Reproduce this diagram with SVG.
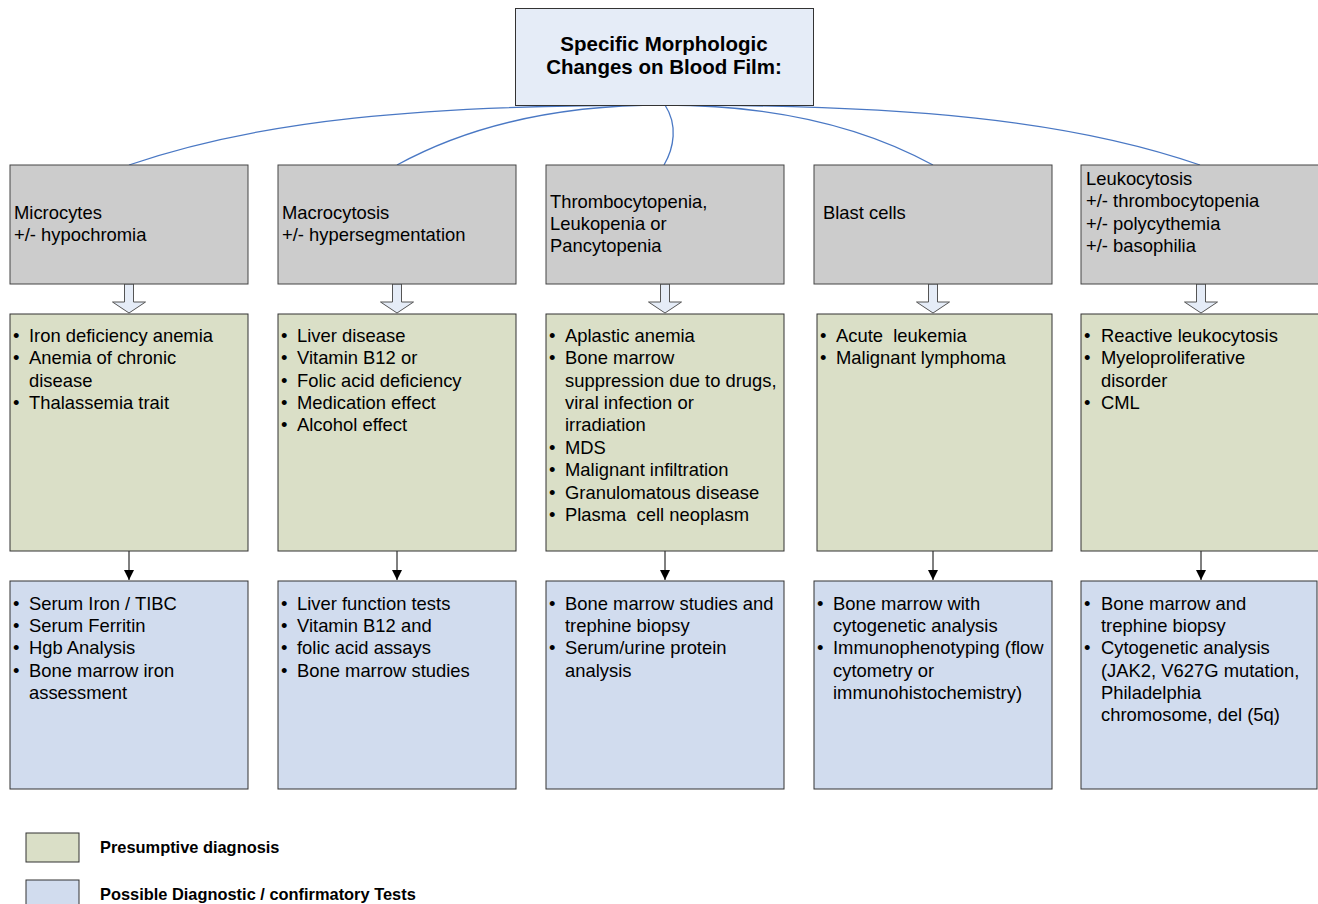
<svg xmlns="http://www.w3.org/2000/svg" width="1318" height="904" viewBox="0 0 1318 904">
<style>
text{font-family:"Liberation Sans",Arial,sans-serif;font-size:18.4px;fill:#000}
.t{font-size:20.5px;font-weight:bold;text-anchor:middle}
.lg{font-size:16.4px;font-weight:bold}
.top{fill:#e5ecf7;stroke:#333;stroke-width:1}
.g{fill:#cccccc;stroke:#444;stroke-width:1}
.p{fill:#dadfc7;stroke:#333;stroke-width:1}
.b{fill:#d1dcee;stroke:#333;stroke-width:1}
.cv{fill:none;stroke:#4a78c4;stroke-width:1.3}
.ln{fill:none;stroke:#000;stroke-width:1}
.ba{fill:#e5ecf7;stroke:#555;stroke-width:1}
</style>
<defs>
<marker id="ah" markerWidth="10" markerHeight="10" refX="10" refY="5" orient="auto" markerUnits="userSpaceOnUse">
<path d="M0,0 L10,5 L0,10 Z" fill="#000"/>
</marker>
</defs>

<g id="connectors">
<path class="cv" d="M664,105 C420,105 260,120 129,165"/>
<path class="cv" d="M664,105 C560,105 470,125 397,165"/>
<path class="cv" d="M665,105 C678,125 674,148 664,165"/>
<path class="cv" d="M664,105 C770,105 860,125 933,165"/>
<path class="cv" d="M664,105 C910,105 1070,120 1200,165"/>
<path class="ba" d="M124.5,284 h9 v18 h12 l-16.5,11 l-16.5,-11 h12 z"/>
<path class="ba" d="M392.5,284 h9 v18 h12 l-16.5,11 l-16.5,-11 h12 z"/>
<path class="ba" d="M660.5,284 h9 v18 h12 l-16.5,11 l-16.5,-11 h12 z"/>
<path class="ba" d="M928.5,284 h9 v18 h12 l-16.5,11 l-16.5,-11 h12 z"/>
<path class="ba" d="M1196.5,284 h9 v18 h12 l-16.5,11 l-16.5,-11 h12 z"/>
<line class="ln" x1="129" y1="551" x2="129" y2="580" marker-end="url(#ah)"/>
<line class="ln" x1="397" y1="551" x2="397" y2="580" marker-end="url(#ah)"/>
<line class="ln" x1="665" y1="551" x2="665" y2="580" marker-end="url(#ah)"/>
<line class="ln" x1="933" y1="551" x2="933" y2="580" marker-end="url(#ah)"/>
<line class="ln" x1="1201" y1="551" x2="1201" y2="580" marker-end="url(#ah)"/>
</g>

<g id="title">
<rect class="top" x="515.5" y="8.5" width="298" height="97"/>
<text class="t" x="664" y="51">Specific Morphologic</text>
<text class="t" x="664" y="74">Changes on Blood Film:</text>
</g>

<g id="n1">
<rect class="g" x="10" y="165" width="238" height="119"/>
<text x="14" y="219">Microcytes</text>
<text x="14" y="241">+/- hypochromia</text>
</g>
<g id="n2">
<rect class="g" x="278" y="165" width="238" height="119"/>
<text x="282" y="219">Macrocytosis</text>
<text x="282" y="241">+/- hypersegmentation</text>
</g>
<g id="n3">
<rect class="g" x="546" y="165" width="238" height="119"/>
<text x="550" y="208">Thrombocytopenia,</text>
<text x="550" y="230">Leukopenia or</text>
<text x="550" y="252">Pancytopenia</text>
</g>
<g id="n4">
<rect class="g" x="814" y="165" width="238" height="119"/>
<text x="823" y="219">Blast cells</text>
</g>
<g id="n5">
<rect class="g" x="1081" y="165" width="240" height="119"/>
<text x="1086" y="185">Leukocytosis</text>
<text x="1086" y="207">+/- thrombocytopenia</text>
<text x="1086" y="230">+/- polycythemia</text>
<text x="1086" y="252">+/- basophilia</text>
</g>

<g id="p1">
<rect class="p" x="10" y="314" width="238" height="237"/>
<text x="13" y="342">•</text><text x="29" y="342">Iron deficiency anemia</text>
<text x="13" y="364">•</text><text x="29" y="364">Anemia of chronic</text>
<text x="29" y="387">disease</text>
<text x="13" y="409">•</text><text x="29" y="409">Thalassemia trait</text>
</g>
<g id="p2">
<rect class="p" x="278" y="314" width="238" height="237"/>
<text x="281" y="342">•</text><text x="297" y="342">Liver disease</text>
<text x="281" y="364">•</text><text x="297" y="364">Vitamin B12 or</text>
<text x="281" y="387">•</text><text x="297" y="387">Folic acid deficiency</text>
<text x="281" y="409">•</text><text x="297" y="409">Medication effect</text>
<text x="281" y="431">•</text><text x="297" y="431">Alcohol effect</text>
</g>
<g id="p3">
<rect class="p" x="546" y="314" width="238" height="237"/>
<text x="549" y="342">•</text><text x="565" y="342">Aplastic anemia</text>
<text x="549" y="364">•</text><text x="565" y="364">Bone marrow</text>
<text x="565" y="387">suppression due to drugs,</text>
<text x="565" y="409">viral infection or</text>
<text x="565" y="431">irradiation</text>
<text x="549" y="454">•</text><text x="565" y="454">MDS</text>
<text x="549" y="476">•</text><text x="565" y="476">Malignant infiltration</text>
<text x="549" y="499">•</text><text x="565" y="499">Granulomatous disease</text>
<text x="549" y="521">•</text><text x="565" y="521" xml:space="preserve">Plasma  cell neoplasm</text>
</g>
<g id="p4">
<rect class="p" x="817" y="314" width="235" height="237"/>
<text x="820" y="342">•</text><text x="836" y="342" xml:space="preserve">Acute  leukemia</text>
<text x="820" y="364">•</text><text x="836" y="364">Malignant lymphoma</text>
</g>
<g id="p5">
<rect class="p" x="1081" y="314" width="240" height="237"/>
<text x="1084" y="342">•</text><text x="1101" y="342">Reactive leukocytosis</text>
<text x="1084" y="364">•</text><text x="1101" y="364">Myeloproliferative</text>
<text x="1101" y="387">disorder</text>
<text x="1084" y="409">•</text><text x="1101" y="409">CML</text>
</g>

<g id="b1">
<rect class="b" x="10" y="581" width="238" height="208"/>
<text x="13" y="610">•</text><text x="29" y="610">Serum Iron / TIBC</text>
<text x="13" y="632">•</text><text x="29" y="632">Serum Ferritin</text>
<text x="13" y="654">•</text><text x="29" y="654">Hgb Analysis</text>
<text x="13" y="677">•</text><text x="29" y="677">Bone marrow iron</text>
<text x="29" y="699">assessment</text>
</g>
<g id="b2">
<rect class="b" x="278" y="581" width="238" height="208"/>
<text x="281" y="610">•</text><text x="297" y="610">Liver function tests</text>
<text x="281" y="632">•</text><text x="297" y="632">Vitamin B12 and</text>
<text x="281" y="654">•</text><text x="297" y="654">folic acid assays</text>
<text x="281" y="677">•</text><text x="297" y="677">Bone marrow studies</text>
</g>
<g id="b3">
<rect class="b" x="546" y="581" width="238" height="208"/>
<text x="549" y="610">•</text><text x="565" y="610">Bone marrow studies and</text>
<text x="565" y="632">trephine biopsy</text>
<text x="549" y="654">•</text><text x="565" y="654">Serum/urine protein</text>
<text x="565" y="677">analysis</text>
</g>
<g id="b4">
<rect class="b" x="814" y="581" width="238" height="208"/>
<text x="817" y="610">•</text><text x="833" y="610">Bone marrow with</text>
<text x="833" y="632">cytogenetic analysis</text>
<text x="817" y="654">•</text><text x="833" y="654">Immunophenotyping (flow</text>
<text x="833" y="677">cytometry or</text>
<text x="833" y="699">immunohistochemistry)</text>
</g>
<g id="b5">
<rect class="b" x="1081" y="581" width="236" height="208"/>
<text x="1084" y="610">•</text><text x="1101" y="610">Bone marrow and</text>
<text x="1101" y="632">trephine biopsy</text>
<text x="1084" y="654">•</text><text x="1101" y="654">Cytogenetic analysis</text>
<text x="1101" y="677">(JAK2, V627G mutation,</text>
<text x="1101" y="699">Philadelphia</text>
<text x="1101" y="721">chromosome, del (5q)</text>
</g>

<g id="legend">
<rect class="p" x="26" y="833" width="53" height="29"/>
<text class="lg" x="100" y="853">Presumptive diagnosis</text>
<rect class="b" x="26" y="880" width="53" height="30"/>
<text class="lg" x="100" y="900">Possible Diagnostic / confirmatory Tests</text>
</g>
</svg>
